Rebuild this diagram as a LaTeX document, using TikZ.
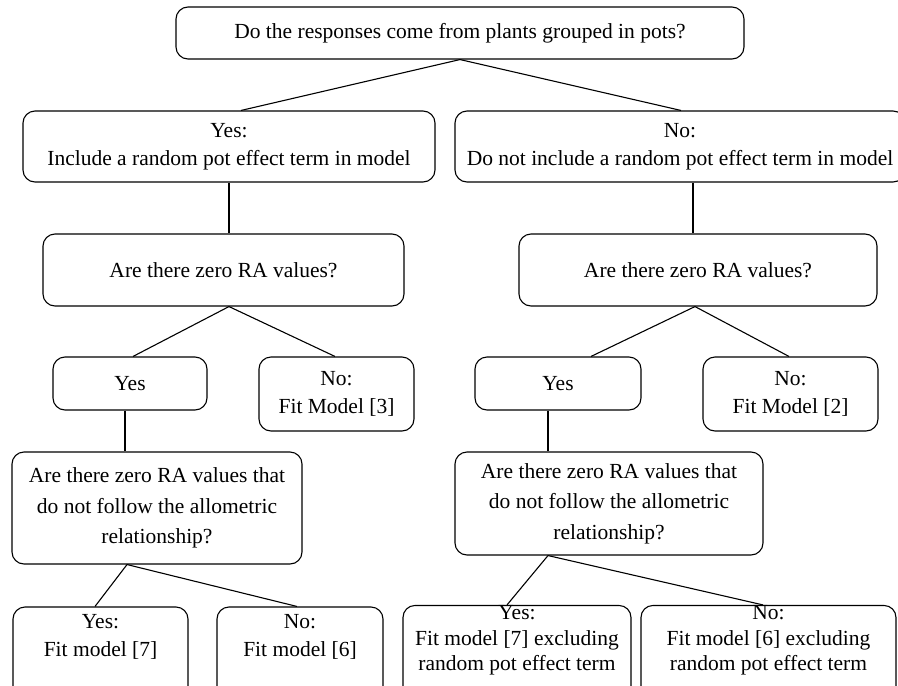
\documentclass[tikz,border=0pt]{standalone}
\usepackage{fontspec}
\setmainfont{Liberation Serif}
\begin{document}
\begin{tikzpicture}[x=1pt,y=-1pt,
  box/.style={draw, line width=1.1pt, rounded corners=12pt, align=center, inner sep=0pt,
    font=\fontsize{21.5}{28}\selectfont},
  conn/.style={line width=1.1pt}]
\useasboundingbox (0,0) rectangle (898,686);
\clip (0,0) rectangle (898,686);
\fill[white] (0,0) rectangle (898,686);
% level 0
\node[box, minimum width=568pt, minimum height=52pt] (top) at (460,33) {Do the responses come from plants grouped in pots?};
% level 1
\node[box, minimum width=412pt, minimum height=71pt] (l1L) at (229,146.5) {Yes:\\Include a random pot effect term in model};
\node[box, minimum width=450pt, minimum height=71pt] (l1R) at (680,146.5) {No:\\Do not include a random pot effect term in model};
% level 2
\node[box, minimum width=361pt, minimum height=72pt] (raL) at (223.5,270) {Are there zero RA values?};
\node[box, minimum width=358pt, minimum height=72pt] (raR) at (698,270) {Are there zero RA values?};
% level 3
\node[box, minimum width=154pt, minimum height=53pt] (yesL) at (130,383.5) {Yes};
\node[box, minimum width=155pt, minimum height=74pt] (noL) at (336.5,394) {No:\\Fit Model [3]};
\node[box, minimum width=166pt, minimum height=53pt] (yesR) at (558,383.5) {Yes};
\node[box, minimum width=175pt, minimum height=74pt] (noR) at (790.5,394) {No:\\Fit Model [2]};
% level 4
\node[box, minimum width=290pt, minimum height=112pt, font=\fontsize{21.5}{30.5}\selectfont] (decL) at (157,508) {Are there zero RA values that\\do not follow the allometric\\relationship?};
\node[box, minimum width=308pt, minimum height=103pt, font=\fontsize{21.5}{30.5}\selectfont] (decR) at (609,503.5) {Are there zero RA values that\\do not follow the allometric\\relationship?};
% level 5
\node[box, minimum width=175pt, minimum height=93pt, text depth=37pt] (b1) at (100.5,653.5) {Yes:\\Fit model [7]};
\node[box, minimum width=166pt, minimum height=93pt, text depth=37pt] (b2) at (300,653.5) {No:\\Fit model [6]};
\node[box, minimum width=228pt, minimum height=93pt, text depth=31pt, font=\fontsize{21.5}{25.5}\selectfont] (b3) at (517,653.5) {Yes:\\Fit model [7] excluding\\random pot effect term};
\node[box, minimum width=255pt, minimum height=93pt, text depth=31pt, font=\fontsize{21.5}{25.5}\selectfont] (b4) at (768.5,653.5) {No:\\Fit model [6] excluding\\random pot effect term};
% connectors
\draw[conn] (top.south) -- ([xshift=12pt]l1L.north);
\draw[conn] (top.south) -- ([xshift=1pt]l1R.north);
\draw[conn] (l1L.south) -- (l1L.south |- raL.north);
\draw[conn] ([xshift=13pt]l1R.south) -- ([xshift=13pt]l1R.south |- raR.north);
\draw[conn] ([xshift=5.5pt]raL.south) -- ([xshift=3pt]yesL.north);
\draw[conn] ([xshift=5.5pt]raL.south) -- ([xshift=-1.5pt]noL.north);
\draw[conn] ([xshift=-3pt]raR.south) -- ([xshift=33pt]yesR.north);
\draw[conn] ([xshift=-3pt]raR.south) -- ([xshift=-1.5pt]noR.north);
\draw[conn] ([xshift=-5pt]yesL.south) -- ([xshift=-5pt]yesL.south |- decL.north);
\draw[conn] ([xshift=-10pt]yesR.south) -- ([xshift=-10pt]yesR.south |- decR.north);
\draw[conn] ([xshift=-30pt]decL.south) -- ([xshift=-5.5pt]b1.north);
\draw[conn] ([xshift=-30pt]decL.south) -- ([xshift=-3pt]b2.north);
\draw[conn] ([xshift=-61pt]decR.south) -- ([xshift=-10pt]b3.north);
\draw[conn] ([xshift=-61pt]decR.south) -- ([xshift=-5.5pt]b4.north);
\end{tikzpicture}
\end{document}
